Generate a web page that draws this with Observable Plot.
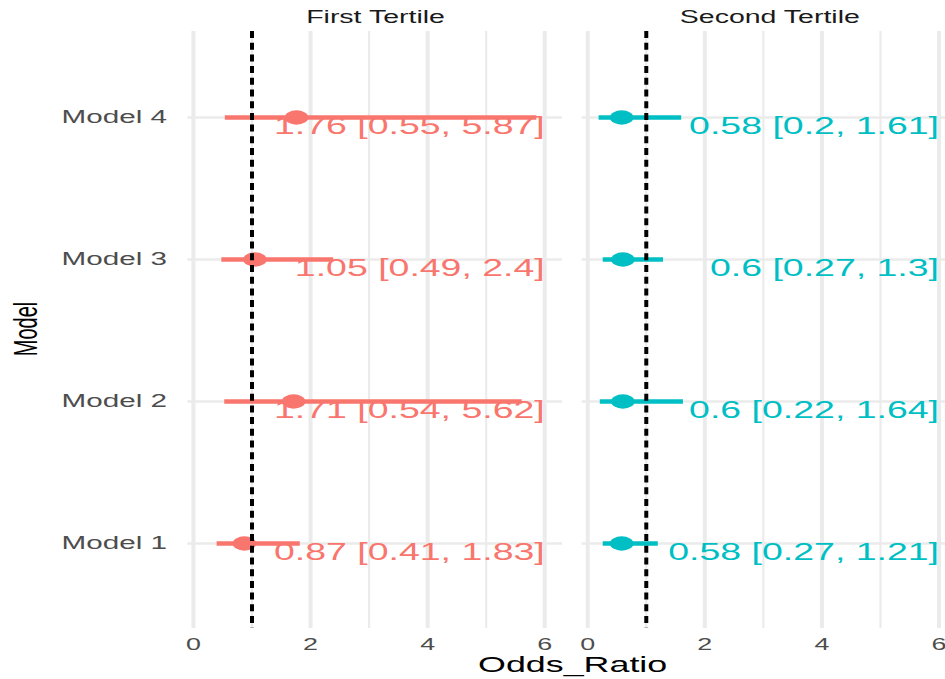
<!DOCTYPE html>
<html>
<head>
<meta charset="utf-8">
<script src="https://cdn.jsdelivr.net/npm/d3@7"></script>
<script src="https://cdn.jsdelivr.net/npm/@observablehq/plot@0.6"></script>
<style>
  html, body { margin: 0; padding: 0; background: white; overflow: hidden; width: 945px; height: 679px; }
  #chart { width: 945px; height: 679px; overflow: hidden; }
</style>
</head>
<body>
<div id="chart"></div>
<script>
// ---- data ----
const models = ["Model 1", "Model 2", "Model 3", "Model 4"];
const tertiles = ["First Tertile", "Second Tertile"];
const orFirst  = [0.87, 1.71, 1.05, 1.76];
const loFirst  = [0.41, 0.54, 0.49, 0.55];
const hiFirst  = [1.83, 5.62, 2.4, 5.87];
const orSecond = [0.58, 0.6, 0.6, 0.58];
const loSecond = [0.27, 0.22, 0.27, 0.2];
const hiSecond = [1.21, 1.64, 1.3, 1.61];
const xTicks = [0, 2, 4, 6];
const xMinor = [1, 3, 5];
const refOR = 1;
const labelX = 6;
const colors = ["#F8766D", "#00BFC4"];

const series = [
  {or: orFirst, lo: loFirst, hi: hiFirst},
  {or: orSecond, lo: loSecond, hi: hiSecond}
];
const rows = tertiles.flatMap((t, i) => models.map((m, j) => ({
  tertile: t, model: m, or: series[i].or[j], lo: series[i].lo[j], hi: series[i].hi[j]
})));

// plot is drawn in a narrower coordinate space and stretched horizontally
const W = 588, H = 679, stretchW = 958;

const chart = Plot.plot({
  width: W, height: H,
  marginLeft: 115, marginRight: 0, marginTop: 31, marginBottom: 51,
  style: {fontFamily: "'Liberation Sans', Arial, sans-serif", background: "white"},
  fx: {domain: tertiles, paddingInner: 0.0481, paddingOuter: 0, axis: null, label: null},
  x: {domain: [-0.09, 6.31], label: null},
  y: {domain: models.slice().reverse(), padding: 0.6, label: null},
  color: {domain: tertiles, range: colors},
  marks: [
    Plot.ruleX(xMinor, {stroke: "#ebebeb", strokeWidth: 1.3}),
    Plot.ruleX(xTicks, {stroke: "#ebebeb", strokeWidth: 2.45}),
    Plot.ruleY(models, {y: d => d, stroke: "#ebebeb", strokeWidth: 2.5}),
    Plot.ruleY(rows, {fx: "tertile", y: "model", x1: "lo", x2: "hi", stroke: "tertile", strokeWidth: 4.5}),
    Plot.dot(rows, {fx: "tertile", x: "or", y: "model", fill: "tertile", r: 7.2}),
    Plot.text(rows, {fx: "tertile", x: labelX, y: "model",
      text: d => `${d.or} [${d.lo}, ${d.hi}]`, fill: "tertile",
      textAnchor: "end", lineAnchor: "top", fontSize: 23}),
    Plot.ruleX([refOR], {stroke: "black", strokeWidth: 2.45, strokeDasharray: "7,4.7"}),
    Plot.text(tertiles, {fx: d => d, text: d => d, frameAnchor: "top", lineAnchor: "bottom",
      dy: -8.5, fontSize: 17.5, fill: "#1a1a1a"}),
    Plot.axisY({tickSize: 0, tickPadding: 13, fontSize: 18.2, color: "#4d4d4d", label: null}),
    Plot.axisX({ticks: xTicks, tickFormat: d => String(d), tickSize: 0, tickPadding: 9.5,
      fontSize: 16.5, color: "#4d4d4d", label: null})
  ]
});

const svg = d3.select(chart);
// axis titles
svg.append("text")
  .attr("x", 351.5).attr("y", 672)
  .attr("text-anchor", "middle")
  .attr("font-size", 22)
  .attr("fill", "black")
  .text("Odds_Ratio");
svg.append("text")
  .attr("transform", "translate(16,329) rotate(-90)")
  .attr("text-anchor", "middle")
  .attr("dominant-baseline", "central")
  .attr("font-size", 20)
  .attr("fill", "black")
  .text("Model");

chart.setAttribute("preserveAspectRatio", "none");
chart.setAttribute("width", stretchW);
chart.setAttribute("height", H);
chart.style.width = stretchW + "px";
chart.style.height = H + "px";
chart.style.maxWidth = "none";
document.getElementById("chart").appendChild(chart);
</script>
</body>
</html>
